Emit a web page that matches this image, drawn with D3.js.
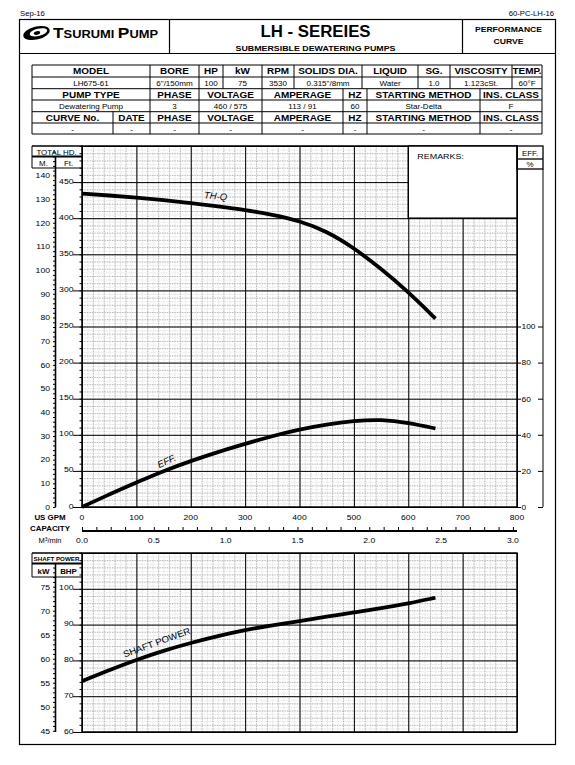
<!DOCTYPE html>
<html>
<head>
<meta charset="utf-8" />
<script src="https://cdn.jsdelivr.net/npm/d3@7"></script>
<title>LH675-61 performance curve</title>
<style>
body { margin: 0; background: #fff; }
svg { font-family: "Liberation Sans", Arial, sans-serif; }
</style>
</head>
<body>
<script>
// values
const flowGpm  = [0, 50, 100, 150, 200, 250, 300, 350, 400, 450, 500, 550, 600, 650];
const headFt   = [434, 431.5, 428.5, 425, 421, 416.5, 411.5, 405, 396.5, 382, 359, 330, 298, 261];
const effPct   = [0, 7, 13.6, 20, 25.5, 30.5, 35, 39.3, 43, 45.8, 47.7, 48.5, 46.8, 43.5];
const powerBhp = [74.2, 77.3, 80.2, 82.7, 84.9, 86.8, 88.5, 89.8, 91, 92.2, 93.4, 94.6, 95.9, 97.5];

const gpmTicks   = [0, 100, 200, 300, 400, 500, 600, 700, 800];
const cmmTicks   = [0, 0.5, 1, 1.5, 2, 2.5, 3];
const meterTicks = [0, 10, 20, 30, 40, 50, 60, 70, 80, 90, 100, 110, 120, 130, 140];
const feetTicks  = [0, 50, 100, 150, 200, 250, 300, 350, 400, 450];
const effTicks   = [0, 20, 40, 60, 80, 100];
const bhpTicks   = [60, 70, 80, 90, 100];
const kwTicks    = [45, 50, 55, 60, 65, 70, 75];

// spec table text
const specHead1 = ["MODEL", "BORE", "HP", "kW", "RPM", "SOLIDS DIA.", "LIQUID", "SG.", "VISCOSITY", "TEMP."];
const specVal1  = ["LH675-61", "6\"/150mm", "100", "75", "3530", "0.315\"/8mm", "Water", "1.0", "1.123cSt.", "60°F"];
const specHead2 = ["PUMP TYPE", "PHASE", "VOLTAGE", "AMPERAGE", "HZ", "STARTING METHOD", "INS. CLASS"];
const specVal2  = ["Dewatering Pump", "3", "460 / 575", "113 / 91", "60", "Star-Delta", "F"];
const specHead3 = ["CURVE No.", "DATE", "PHASE", "VOLTAGE", "AMPERAGE", "HZ", "STARTING METHOD", "INS. CLASS"];
const specVal3  = ["-", "-", "-", "-", "-", "-", "-", "-"];

// layout
const W = 575, H = 765;
const cols1 = [32, 150, 199, 223, 262, 294, 362, 418, 450, 512, 542];
const cols2 = [32, 150, 199, 262, 343, 367, 480, 542];
const cols3 = [32, 113, 150, 199, 262, 343, 367, 480, 542];
const rowY  = [65, 77, 88.7, 100, 111.7, 123, 134];

const FT_PER_M = 3.2808, KW_PER_HP = 0.7457, GPM_PER_CMM = 264.172;

const x    = d3.scaleLinear([0, 800], [82, 517]);
const xCmm = d3.scaleLinear([0, 800 / GPM_PER_CMM], [82, 517]);
const yFt  = d3.scaleLinear([0, 500], [507, 146]);
const yM   = d3.scaleLinear([0, 500 / FT_PER_M], [507, 146]);
const yEff = d3.scaleLinear([0, 200], [507, 146]);
const yBhp = d3.scaleLinear([60, 110], [732, 553]);
const yKw  = d3.scaleLinear([60 * KW_PER_HP, 110 * KW_PER_HP], [732, 553]);

const svg = d3.select("body").append("svg").attr("width", W).attr("height", H);

function put(parent, px, py, s, size, o = {}) {
  const t = parent.append("text")
    .attr("transform", `translate(${px},${py})` + (o.rot ? ` rotate(${o.rot})` : "") + ` scale(${o.sx || 1},1)`)
    .attr("text-anchor", o.anchor || "middle")
    .attr("font-size", size)
    .attr("font-weight", o.bold ? "bold" : null)
    .attr("font-style", o.italic ? "italic" : null)
    .text(s);
  if (o.len) t.attr("textLength", o.len).attr("lengthAdjust", "spacingAndGlyphs");
  return t;
}
function hline(g, x1, x2, yy, w) {
  g.append("line").attr("x1", x1).attr("x2", x2).attr("y1", yy).attr("y2", yy)
    .attr("stroke", "#000").attr("stroke-width", w || 1);
}
function vline(g, xx, y1, y2, w) {
  g.append("line").attr("x1", xx).attr("x2", xx).attr("y1", y1).attr("y2", y2)
    .attr("stroke", "#000").attr("stroke-width", w || 1);
}

// ---------- page frame and header ----------
const page = svg.append("g");
page.append("rect").attr("x", 19.5).attr("y", 19.5).attr("width", 536).attr("height", 725)
  .attr("fill", "none").attr("stroke", "#000").attr("stroke-width", 1.2);
hline(page, 19.5, 555.5, 53.5, 1.2);
vline(page, 169.5, 19.5, 53.5, 1.2);
vline(page, 462.5, 19.5, 53.5, 1.2);

put(page, 20, 15.5, "Sep-16", 7, { anchor: "start", sx: 1.1 });
put(page, 554, 15.5, "60-PC-LH-16", 7, { anchor: "end", sx: 1.1 });

// logo
page.append("ellipse").attr("cx", 36.5).attr("cy", 33).attr("rx", 13.5).attr("ry", 6.5)
  .attr("transform", "rotate(-14,36.5,33)").attr("fill", "#000");
page.append("ellipse").attr("cx", 38.5).attr("cy", 32.3).attr("rx", 9).attr("ry", 3.6)
  .attr("transform", "rotate(-14,38.5,32.3)").attr("fill", "#fff");
page.append("ellipse").attr("cx", 37).attr("cy", 33).attr("rx", 3.2).attr("ry", 1.7)
  .attr("transform", "rotate(-14,37,33)").attr("fill", "#000");
const logo = page.append("text").attr("x", 53).attr("y", 38).attr("font-weight", "bold")
  .attr("textLength", 105).attr("lengthAdjust", "spacingAndGlyphs");
logo.append("tspan").attr("font-size", 15.5).text("T");
logo.append("tspan").attr("font-size", 11.5).text("SURUMI ");
logo.append("tspan").attr("font-size", 15.5).text("P");
logo.append("tspan").attr("font-size", 11.5).text("UMP");

put(page, 315.5, 37, "LH - SEREIES", 16.8, { bold: true });
put(page, 315.5, 50.5, "SUBMERSIBLE DEWATERING PUMPS", 6.8, { bold: true, len: 160 });
put(page, 508.5, 32, "PERFORMANCE", 6.5, { bold: true, len: 67 });
put(page, 508.5, 44, "CURVE", 6.5, { bold: true, len: 30 });

// ---------- spec table ----------
const tbl = svg.append("g");
rowY.forEach(r => hline(tbl, 32, 542, r, 1));
[[cols1, 0], [cols2, 2], [cols3, 4]].forEach(([cols, r]) => {
  cols.forEach(c => vline(tbl, c, rowY[r], rowY[r + 2], 1));
});
function fillRow(cols, texts, r, head) {
  texts.forEach((s, i) => {
    const cx = (cols[i] + cols[i + 1]) / 2;
    if (head) put(tbl, cx, rowY[r] + 8.9, s, 8.3, { bold: true, sx: 1.2 });
    else put(tbl, cx, rowY[r] + 8.5, s, 7.2, { sx: 1.12 });
  });
}
fillRow(cols1, specHead1, 0, true);
fillRow(cols1, specVal1, 1, false);
fillRow(cols2, specHead2, 2, true);
fillRow(cols2, specVal2, 3, false);
fillRow(cols3, specHead3, 4, true);
fillRow(cols3, specVal3, 5, false);

// ---------- grids ----------
function gridX(g, scale, values, y0, y1, color, w, dash) {
  g.append("g").attr("transform", `translate(0,${y1})`)
    .call(d3.axisBottom(scale).tickValues(values).tickSize(-(y1 - y0)).tickFormat(""))
    .call(a => a.select(".domain").remove())
    .selectAll("line").attr("stroke", color).attr("stroke-width", w).attr("stroke-dasharray", dash);
}
function gridY(g, scale, values, x0, x1, color, w, dash) {
  g.append("g").attr("transform", `translate(${x0},0)`)
    .call(d3.axisLeft(scale).tickValues(values).tickSize(-(x1 - x0)).tickFormat(""))
    .call(a => a.select(".domain").remove())
    .selectAll("line").attr("stroke", color).attr("stroke-width", w).attr("stroke-dasharray", dash);
}
function panel(g, yScale, yFaint, yMinor, yMajor) {
  const [yb, yt] = yScale.range();
  gridX(g, x, x.ticks(80), yt, yb, "#ededed", 1, null);
  gridY(g, yScale, yFaint, 82, 517, "#ededed", 1, null);
  gridX(g, x, x.ticks(40), yt, yb, "#a6a6a6", 0.8, "1.2,1.3");
  gridY(g, yScale, yMinor, 82, 517, "#a6a6a6", 0.8, "1.2,1.3");
  gridX(g, x, gpmTicks, yt, yb, "#000", 1, null);
  gridY(g, yScale, yMajor, 82, 517, "#000", 1, null);
  g.append("rect").attr("x", 82).attr("y", yt).attr("width", 435).attr("height", yb - yt)
    .attr("fill", "none").attr("stroke", "#000").attr("stroke-width", 1.5);
}
const smooth = d3.curveBasis;

// ---------- main chart ----------
const main = svg.append("g");
panel(main, yFt, yFt.ticks(100), yFt.ticks(50), feetTicks.concat([500]));

// remarks box over the grid
main.append("rect").attr("x", x(600)).attr("y", yFt(500)).attr("width", x(800) - x(600))
  .attr("height", yFt(400) - yFt(500)).attr("fill", "#fff").attr("stroke", "#000").attr("stroke-width", 1.5);
put(main, x(600) + 9, yFt(500) + 13, "REMARKS:", 7.8, { anchor: "start", sx: 1.15 });

// left header box
hline(main, 32, 82, 146, 1.5);
vline(main, 32, 146, 168, 1);
hline(main, 32, 82, 156.5, 2);
hline(main, 32, 82, 168, 1);
vline(main, 55.5, 156, 507, 1.6);
put(main, 56.5, 154.5, "TOTAL HD.", 7.2, { sx: 1.1 });
put(main, 43.5, 165.5, "M.", 7.2, { sx: 1.1 });
put(main, 68.5, 165.5, "Ft.", 7.2, { sx: 1.1 });

// meter axis
main.append("g").attr("transform", "translate(55.5,0)")
  .call(d3.axisLeft(yM).tickValues(yM.ticks(76).filter(v => v <= 150)).tickSize(2.5).tickFormat(""))
  .call(a => a.select(".domain").remove());
meterTicks.forEach(v => put(main, 50, yM(v) + 2.8, String(v), 8, { anchor: "end", sx: 1.08 }));

// feet axis
main.append("g").attr("transform", "translate(82,0)")
  .call(d3.axisLeft(yFt).tickValues(yFt.ticks(50)).tickSize(2.5).tickFormat(""))
  .call(a => a.select(".domain").remove());
feetTicks.forEach(v => {
  hline(main, 73, 82, yFt(v) + 0.5, 1);
  put(main, 73.5, yFt(v) + 1.5, String(v), 8, { anchor: "end", sx: 1.08 });
});

// right efficiency axis
main.append("rect").attr("x", 517).attr("y", 146).attr("width", 26).attr("height", 23)
  .attr("fill", "none").attr("stroke", "#000").attr("stroke-width", 1.3);
hline(main, 517, 543, 159, 1.3);
vline(main, 543, 169, 507, 1);
put(main, 530, 156, "EFF.", 7.2, { sx: 1.1 });
put(main, 530, 166.5, "%", 7.2, { sx: 1.1 });
effTicks.forEach(v => {
  hline(main, 517, 521, yEff(v) + 0.5, 1);
  hline(main, 538, 543, yEff(v) + 0.5, 1);
  put(main, 521.5, yEff(v) + 2.8, String(v), 8, { anchor: "start", sx: 1.05 });
});

// capacity axes
gpmTicks.forEach(v => put(main, x(v), 520, String(v), 7.8, { sx: 1.1 }));
hline(main, 82, 517, 531, 2);
main.append("g").attr("transform", "translate(0,530)")
  .call(d3.axisTop(xCmm).tickValues(xCmm.ticks(30)).tickSize(3).tickFormat(""))
  .call(a => a.select(".domain").remove());
cmmTicks.forEach(v => put(main, xCmm(v), 543, v.toFixed(1), 7.8, { sx: 1.1 }));
put(main, 50, 520, "US GPM", 7.2, { bold: true, sx: 1.1 });
put(main, 50, 531, "CAPACITY", 7.2, { bold: true, sx: 1.1 });
const cmmLbl = put(main, 50, 543, "", 6.8, { sx: 1.1 });
cmmLbl.append("tspan").text("M");
cmmLbl.append("tspan").attr("font-size", 4.5).attr("dy", -2.5).text("3");
cmmLbl.append("tspan").attr("dy", 2.5).text("/min");

// curves
const thq = flowGpm.map((q, i) => [q, headFt[i]]);
const eff = flowGpm.map((q, i) => [q, effPct[i]]);
main.append("path").datum(thq)
  .attr("d", d3.line().x(d => x(d[0])).y(d => yFt(d[1])).curve(smooth))
  .attr("fill", "none").attr("stroke", "#000").attr("stroke-width", 3.8);
main.append("path").datum(eff)
  .attr("d", d3.line().x(d => x(d[0])).y(d => yEff(d[1])).curve(smooth))
  .attr("fill", "none").attr("stroke", "#000").attr("stroke-width", 3.8);
put(main, x(224), yFt(427.5), "TH-Q", 9.5, { anchor: "start", italic: true, rot: 5 });
put(main, x(142), yEff(21.5), "EFF.", 9.5, { anchor: "start", italic: true, rot: -25 });

// ---------- shaft power chart ----------
const low = svg.append("g");
panel(low, yBhp, yBhp.ticks(50), yBhp.ticks(25), bhpTicks.concat([110]));
hline(low, 32, 82, 553, 1.5);
vline(low, 32, 553, 577, 1);
hline(low, 32, 82, 563.5, 2);
hline(low, 32, 82, 577, 1);
vline(low, 55.5, 563, 732, 1.6);
put(low, 56.5, 561, "SHAFT POWER", 5.6, { bold: true, len: 46 });
put(low, 43.5, 574, "kW", 7.2, { bold: true, sx: 1.1 });
put(low, 68.5, 574, "BHP", 7.2, { bold: true, sx: 1.1 });

low.append("g").attr("transform", "translate(55.5,0)")
  .call(d3.axisLeft(yKw).tickValues(yKw.ticks(40).filter(v => v >= 45 && v <= 79)).tickSize(2.5).tickFormat(""))
  .call(a => a.select(".domain").remove());
kwTicks.forEach(v => put(low, 50, yKw(v) + 2.8, String(v), 8, { anchor: "end", sx: 1.08 }));
low.append("g").attr("transform", "translate(82,0)")
  .call(d3.axisLeft(yBhp).tickValues(yBhp.ticks(25)).tickSize(2.5).tickFormat(""))
  .call(a => a.select(".domain").remove());
bhpTicks.forEach(v => {
  hline(low, 73, 82, yBhp(v) + 0.5, 1);
  put(low, 73.5, yBhp(v) + 1.5, String(v), 8, { anchor: "end", sx: 1.08 });
});

const pw = flowGpm.map((q, i) => [q, powerBhp[i]]);
low.append("path").datum(pw)
  .attr("d", d3.line().x(d => x(d[0])).y(d => yBhp(d[1])).curve(smooth))
  .attr("fill", "none").attr("stroke", "#000").attr("stroke-width", 3.8);
put(low, x(78), yBhp(80.8), "SHAFT POWER", 9, { anchor: "start", rot: -20, len: 71 });
</script>
</body>
</html>
